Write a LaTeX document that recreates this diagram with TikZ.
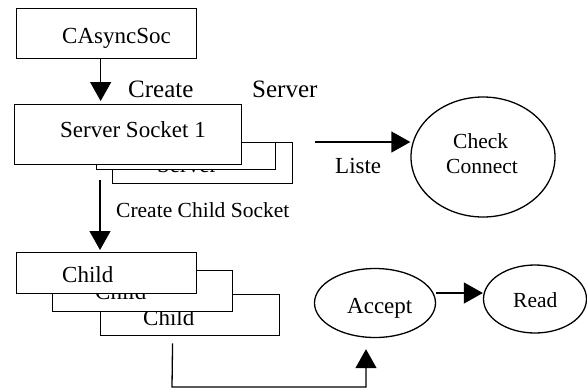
\documentclass[tikz,border=0pt]{standalone}
\usepackage{fontspec}
\setmainfont{Liberation Serif}
\usetikzlibrary{arrows.meta,shapes.geometric}
\begin{document}
\begin{tikzpicture}[x=1pt,y=-1pt,
  box/.style={draw,fill=white,line width=1.3pt,rectangle,inner sep=0pt,anchor=north west},
  oval/.style={draw,ellipse,line width=1.3pt,inner sep=0pt},
  lbl/.style={anchor=base west,inner sep=0pt,font=\fontsize{23}{27}\selectfont},
  lbls/.style={anchor=base west,inner sep=0pt,font=\fontsize{21.5}{25}\selectfont},
  lblb/.style={anchor=base west,inner sep=0pt,font=\fontsize{25}{29}\selectfont},
  arr/.style={line width=1.3pt,-{Triangle[length=19pt,width=21pt]}}]
\useasboundingbox (0,0) rectangle (587,389);
% top box
\node[box,minimum width=180pt,minimum height=50pt] (cas) at (16,8) {};
\node[lbl] (tcas) at (62,43) {CAsyncSoc};
\node[lblb] (tcreate) at (128,97) {Create};
\node[lblb] (tserver) at (252,97) {Server};
% server sockets stack
\node[box,minimum width=180pt,minimum height=41pt] (ss3) at (112,142) {};
\node[lbl] (tss3) at (157,172.5) {Server};
\node[box,minimum width=179pt,minimum height=27pt] (ss2) at (96,142) {};
\node[box,minimum width=227pt,minimum height=60pt] (ss1) at (14,104) {};
\node[lbl] (tss1) at (60,137) {Server Socket 1};
\draw[arr,shorten >=3pt] ([xshift=-6pt]cas.south) -- ([xshift=-6pt]cas.south |- ss1.north);
% check connect
\node[oval,minimum width=144pt,minimum height=120pt] (cc) at (483,157) {};
\node[lbls] (tcheck) at (453,148) {Check};
\node[lbls] (tconn) at (446,173) {Connect};
\coordinate (ls) at (315,142);
\draw[arr] (ls) -- (ls -| cc.west);
\node[lbl] (tliste) at (335,173) {Liste};
% child sockets
\node[lbls] (tccs) at (116,217) {Create Child Socket};
\node[box,minimum width=179pt,minimum height=41pt] (c3) at (100,294) {};
\node[lbl] (tc3) at (143,325) {Child};
\node[box,minimum width=180pt,minimum height=41pt] (c2) at (52,270) {};
\node[lbl] (tc2) at (95,299) {Child};
\node[box,minimum width=180pt,minimum height=41pt] (c1) at (16,252) {};
\node[lbl] (tc1) at (62,282) {Child};
\coordinate (cs) at (100,180);
\draw[arr,shorten >=2pt] (cs) -- (cs |- c1.north);
% accept / read
\node[oval,minimum width=121pt,minimum height=69pt] (acc) at (375,303) {};
\node[lbl] (tacc) at (347,313) {Accept};
\node[oval,minimum width=103pt,minimum height=68pt] (rd) at (535,299) {};
\node[lbls] (trd) at (513,307) {Read};
\draw[arr] ([yshift=10pt]acc.east) -- ([yshift=10pt]acc.east -| rd.west);
\coordinate (b1) at (172,387);
\coordinate (b2) at (366,387);
\draw[arr,shorten <=7pt,shorten >=11pt] ([xshift=-17.5pt]c3.south) -- (b1) -- (b2) -- (b2 |- acc.south);
\end{tikzpicture}
\end{document}
